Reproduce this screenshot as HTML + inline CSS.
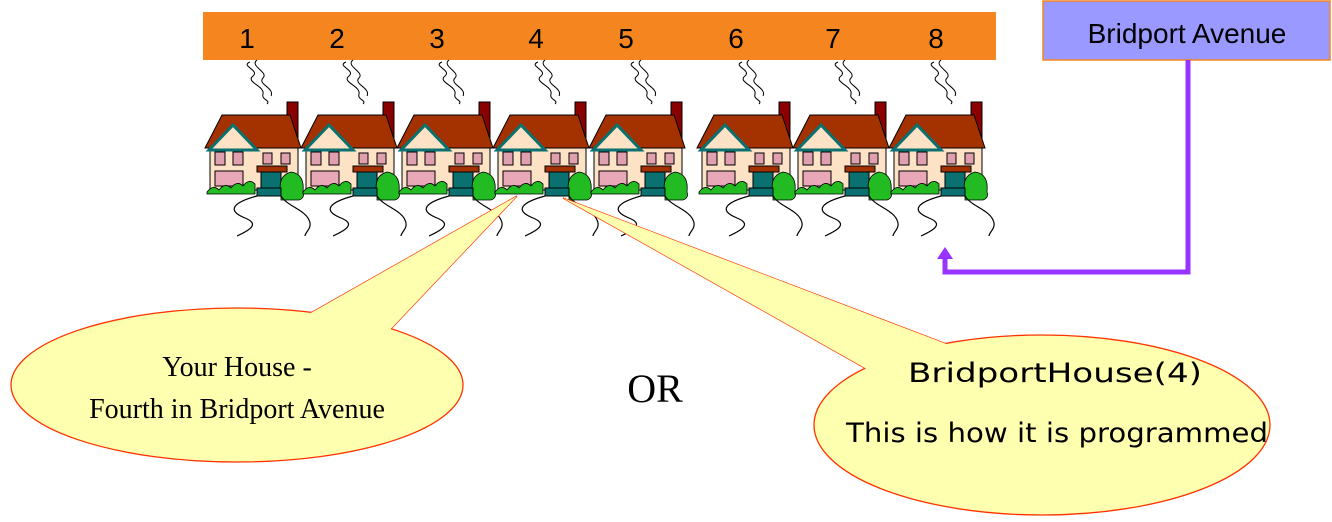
<!DOCTYPE html>
<html><head><meta charset="utf-8"><style>
html,body{margin:0;padding:0;background:#fff;}
svg{display:block;}
</style></head><body>
<svg width="1332" height="522" viewBox="0 0 1332 522">
<defs>
<symbol id="house" viewBox="0 0 100 180" width="100" height="180" overflow="visible">
  <path d="M45 2 C35 6 55 10 48 16 C40 22 60 26 58 34 C56 40 66 40 62 44" fill="none" stroke="#000" stroke-width="1"/>
  <path d="M52 0 C44 6 64 12 58 18 C52 24 70 28 66 36" fill="none" stroke="#000" stroke-width="1"/>
  <rect x="82" y="42" width="11" height="48" fill="#8b0000" stroke="#000"/>
  <rect x="5" y="84" width="88" height="46" fill="#fde2c6" stroke="#000"/>
  <polygon points="0,88 17,55 85,55 96,88" fill="#a33200" stroke="#000"/>
  <polygon points="4,90 28,65 52,90" fill="#fde2c6" stroke="#0a7070" stroke-width="3"/>
  <rect x="10" y="92" width="10" height="13" fill="#e0a0b0" stroke="#000"/>
  <rect x="28" y="92" width="10" height="13" fill="#e0a0b0" stroke="#000"/>
  <rect x="58" y="93" width="9" height="11" fill="#e0a0b0" stroke="#000"/>
  <rect x="76" y="93" width="9" height="11" fill="#e0a0b0" stroke="#000"/>
  <rect x="10" y="111" width="28" height="15" fill="#e8a8b8" stroke="#000"/>
  <rect x="52" y="106" width="30" height="6" fill="#a33200" stroke="#000"/>
  <rect x="56" y="112" width="20" height="16" fill="#0a7070" stroke="#000"/>
  <path d="M2 132 q6-8 12-2 q6-8 12-2 q6-8 12-2 q6-8 12-2 l0 10 l-48 0z" fill="#22bb22" stroke="#000" stroke-width="0.8"/>
  <path d="M76 134 q-4-18 10-22 q14 2 12 20 q2 6-4 8 l-18 0z" fill="#22bb22" stroke="#000" stroke-width="0.8"/>
  <rect x="52" y="128" width="24" height="8" fill="#0a7070" stroke="#000"/>
  <path d="M52 136 C30 142 20 150 40 158 C55 164 45 170 32 176" fill="none" stroke="#000" stroke-width="1.2"/>
  <path d="M76 136 C82 146 100 150 104 160 C108 168 100 172 100 176" fill="none" stroke="#000" stroke-width="1.2"/>
</symbol>
</defs>
<rect x="203" y="12" width="793" height="48" fill="#f5861f"/>
<g font-family="Liberation Sans, sans-serif" font-size="28" text-anchor="middle" fill="#000">
<text x="247" y="48">1</text><text x="337" y="48">2</text><text x="437" y="48">3</text><text x="536" y="48">4</text>
<text x="626" y="48">5</text><text x="736" y="48">6</text><text x="833" y="48">7</text><text x="936" y="48">8</text>
</g>
<g>
<use href="#house" x="205" y="60"/><use href="#house" x="301" y="60"/><use href="#house" x="397" y="60"/><use href="#house" x="493" y="60"/>
<use href="#house" x="589" y="60"/><use href="#house" x="697" y="60"/><use href="#house" x="793" y="60"/><use href="#house" x="889" y="60"/>
</g>
<rect x="1043" y="1" width="287" height="59" fill="#9999ff" stroke="#f5861f" stroke-width="1.5"/>
<text x="1187" y="43" font-family="Liberation Sans, sans-serif" font-size="28" text-anchor="middle">Bridport Avenue</text>
<polyline points="1188,60 1188,272 945,272 945,256" fill="none" stroke="#9933ff" stroke-width="5"/>
<polygon points="937,259 945,247 953,259" fill="#9933ff"/>

<g>
<polygon points="302,318 517,196 386,334" fill="#ffffb0" stroke="#ff3300" stroke-width="1.3"/>
<ellipse cx="237" cy="385" rx="226" ry="77" fill="#ffffb0" stroke="#ff3300" stroke-width="1.3"/>
<polygon points="302,318 517,196 386,334" fill="#ffffb0"/>
<text x="237" y="376" font-family="Liberation Serif, serif" font-size="28" text-anchor="middle">Your House -</text>
<text x="237" y="418" font-family="Liberation Serif, serif" font-size="28" text-anchor="middle">Fourth in Bridport Avenue</text>
</g>

<g>
<polygon points="872,372 563,198 957,348" fill="#ffffb0" stroke="#ff3300" stroke-width="1.3"/>
<ellipse cx="1042" cy="425" rx="228" ry="90" fill="#ffffb0" stroke="#ff3300" stroke-width="1.3"/>
<polygon points="872,372 563,198 957,348" fill="#ffffb0"/>
<text x="1055" y="382" font-family="DejaVu Sans, sans-serif" font-size="27" text-anchor="middle" textLength="294" lengthAdjust="spacingAndGlyphs">BridportHouse(4)</text>
<text x="1057" y="442" font-family="DejaVu Sans, sans-serif" font-size="27" text-anchor="middle" textLength="422" lengthAdjust="spacingAndGlyphs">This is how it is programmed</text>
</g>
<text x="655" y="402" font-family="Liberation Serif, serif" font-size="40" text-anchor="middle">OR</text>
</svg>
</body></html>
